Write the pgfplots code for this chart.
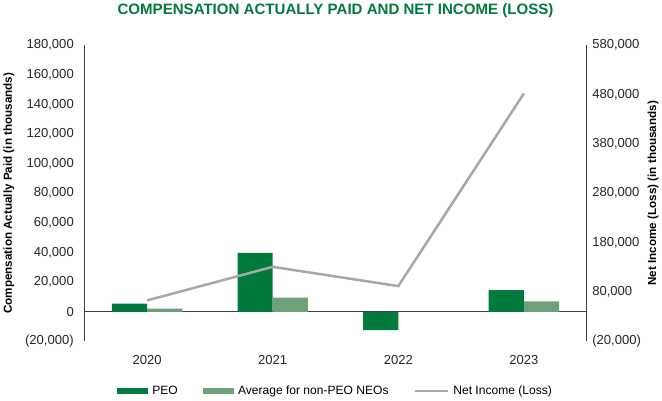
\documentclass[border=0pt]{standalone}
\usepackage{fontspec}
\setmainfont{Liberation Sans}
\usepackage{pgfplots}
\pgfplotsset{compat=1.18}
\definecolor{peo}{RGB}{0,122,61}
\definecolor{neo}{RGB}{110,160,122}
\definecolor{ni}{RGB}{168,168,168}
\definecolor{ttl}{RGB}{0,122,61}
\definecolor{axc}{RGB}{64,64,64}
\begin{document}
\begin{tikzpicture}
\begin{axis}[
  scale only axis, width=500pt, height=295pt,
  xmin=-0.5, xmax=3.5, ymin=-20000, ymax=180000,
  scaled y ticks=false,
  axis y line*=left, axis x line*=bottom,
  x axis line style={draw=none},
  y axis line style={draw=axc, line width=0.8pt, -},
  xtick={0,1,2,3}, xticklabels={2020,2021,2022,2023},
  ytick={-20000,0,20000,40000,60000,80000,100000,120000,140000,160000,180000},
  yticklabels={{(20,000)},{0},{20,000},{40,000},{60,000},{80,000},{100,000},{120,000},{140,000},{160,000},{180,000}},
  major tick length=0pt,
  tick label style={font=\fontsize{13}{15}\selectfont, text=black!85},
  xticklabel style={yshift=-10pt},
  yticklabel style={xshift=-7pt},
  ylabel={Compensation Actually Paid (in thousands)},
  ylabel style={font=\bfseries\fontsize{11.6}{13}\selectfont, yshift=4pt},
  title={COMPENSATION ACTUALLY PAID AND NET INCOME (LOSS)},
  title style={font=\bfseries\fontsize{15}{17}\selectfont, text=ttl, yshift=18pt},
  extra y ticks={0}, extra y tick labels={},
  extra y tick style={grid=major, major grid style={draw=axc, line width=0.8pt}},
  ybar, bar width=35pt,
  legend style={at={(0.5,-0.167)}, anchor=center, draw=none, fill=none,
    legend columns=3, font=\fontsize{12}{14}\selectfont,
    /tikz/every even column/.append style={column sep=23pt},
    /tikz/every odd column/.append style={column sep=2pt}},
]
\addplot[fill=peo, draw=none, bar shift=-17.5pt,
  legend image code/.code={\fill[peo] (0pt,-3pt) rectangle (31pt,3pt);}]
  coordinates {(0,5500) (1,39700) (2,-12300) (3,14600)};
\addlegendentry{PEO}
\addplot[fill=neo, draw=none, bar shift=17.5pt,
  legend image code/.code={\fill[neo] (0pt,-3pt) rectangle (31pt,3pt);}]
  coordinates {(0,2200) (1,9600) (3,7100)};
\addlegendentry{Average for non-PEO NEOs}
\addlegendimage{legend image code/.code={\draw[ni, line width=2.5pt] (0pt,0pt) -- (33pt,0pt);}}
\addlegendentry{Net Income (Loss)}
\end{axis}
\begin{axis}[
  scale only axis, width=500pt, height=295pt,
  xmin=-0.5, xmax=3.5, ymin=-20000, ymax=580000,
  scaled y ticks=false,
  axis y line*=right, axis x line=none,
  y axis line style={draw=axc, line width=0.8pt, -},
  ytick={-20000,80000,180000,280000,380000,480000,580000},
  yticklabels={{(20,000)},{80,000},{180,000},{280,000},{380,000},{480,000},{580,000}},
  major tick length=0pt,
  tick label style={font=\fontsize{13}{15}\selectfont, text=black!85},
  yticklabel style={xshift=2pt},
  ylabel={Net Income (Loss) (in thousands)},
  ylabel style={font=\bfseries\fontsize{11.6}{13}\selectfont},
]
\addplot[ni, line width=2.5pt] coordinates {(0,63000) (1,131000) (2,92000) (3,482000)};
\end{axis}
\end{tikzpicture}
\end{document}
